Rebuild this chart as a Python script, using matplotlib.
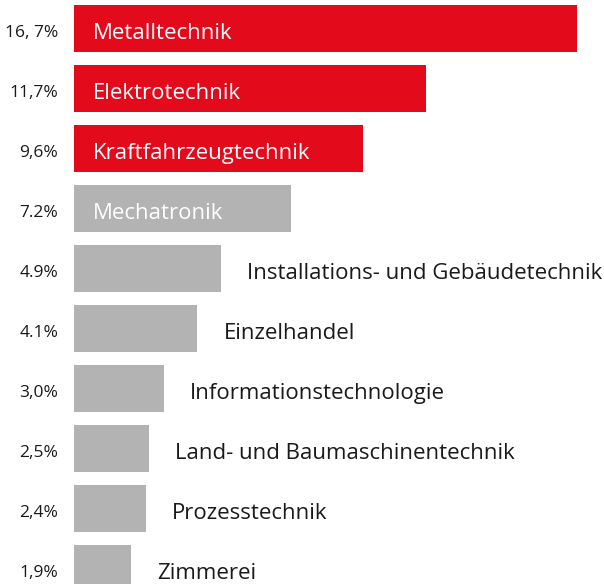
import matplotlib
matplotlib.use('Agg')
import matplotlib.pyplot as plt

# Data
categories = ['Metalltechnik', 'Elektrotechnik', 'Kraftfahrzeugtechnik', 'Mechatronik',
              'Installations- und Gebäudetechnik', 'Einzelhandel', 'Informationstechnologie',
              'Land- und Baumaschinentechnik', 'Prozesstechnik', 'Zimmerei']
values = [16.7, 11.7, 9.6, 7.2, 4.9, 4.1, 3.0, 2.5, 2.4, 1.9]
value_labels = ['16, 7%', '11,7%', '9,6%', '7.2%', '4.9%', '4.1%', '3,0%', '2,5%', '2,4%', '1,9%']
highlight = [True, True, True, False, False, False, False, False, False, False]
label_inside = [True, True, True, True, False, False, False, False, False, False]

RED = '#E30A1C'
GREY = '#B3B3B3'
TEXT = '#1A1A1A'

plt.rcParams['font.family'] = ['Open Sans', 'DejaVu Sans']

W, H = 604, 584
fig = plt.figure(figsize=(W / 100, H / 100), dpi=100)
left_px = 74
ax = fig.add_axes([left_px / W, 0, 1 - left_px / W, 1])

px_per_unit = 30.1
row_step = 60.0
first_center = 28.5
ax.set_xlim(0, (W - left_px) / px_per_unit)
ax.set_ylim((H - first_center) / row_step, -first_center / row_step)
ax.axis('off')

ypos = list(range(len(values)))
colors = [RED if h else GREY for h in highlight]
ax.barh(ypos, values, height=47 / row_step, color=colors, clip_on=True)

for i, (cat, v, lab, inside) in enumerate(zip(categories, values, value_labels, label_inside)):
    ax.annotate(lab, xy=(0, i), xytext=(-16, -8.5), textcoords='offset pixels',
                ha='right', va='baseline', fontsize=12.5, color=TEXT, annotation_clip=False)
    if inside:
        ax.annotate(cat, xy=(0, i), xytext=(19, -10.5), textcoords='offset pixels',
                    ha='left', va='baseline', fontsize=16, color='white')
    else:
        ax.annotate(cat, xy=(v, i), xytext=(26, -10.5), textcoords='offset pixels',
                    ha='left', va='baseline', fontsize=16, color=TEXT)

fig.savefig('out.png', dpi=100)
